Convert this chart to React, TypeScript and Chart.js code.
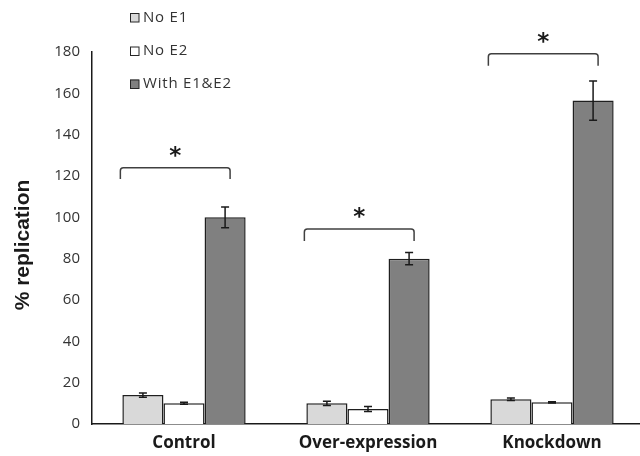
import React, { useEffect, useRef } from "react";
import { Chart, registerables } from "chart.js";

Chart.register(...registerables);

const categories = ["Control", "Over-expression", "Knockdown"];
const seriesNames = ["No E1", "No E2", "With E1&E2"];
const noE1 = [14, 10, 12];
const noE1Err = [1, 1, 0.6];
const noE2 = [10, 7.3, 10.5];
const noE2Err = [0.5, 1.2, 0.3];
const withE1E2 = [100, 80, 156.5];
const withE1E2Err = [5, 3, 9.5];
const bracketLevels = [124, 94.3, 179.2];
const bracketDrop = [5.5, 5.7, 5.8];
const yTicks = [0, 20, 40, 60, 80, 100, 120, 140, 160, 180];
const yTitle = "% replication";

const fills = ["#d9d9d9", "#ffffff", "#808080"];
const borders = ["#1f1f1f", "#1f1f1f", "#1f1f1f"];

export default function App() {
  const ref = useRef<HTMLCanvasElement | null>(null);

  useEffect(() => {
    const canvas = ref.current;
    if (!canvas) return;
    const errs = [noE1Err, noE2Err, withE1E2Err];

    const overlay = {
      id: "overlay",
      afterDatasetsDraw(chart: any) {
        const ctx = chart.ctx;
        const y = chart.scales.y;
        ctx.save();
        // error bars
        ctx.strokeStyle = "#1a1a1a";
        ctx.lineWidth = 1.5;
        for (let d = 0; d < 3; d++) {
          const meta = chart.getDatasetMeta(d);
          const vals = chart.data.datasets[d].data as number[];
          meta.data.forEach((bar: any, i: number) => {
            const v = vals[i];
            const e = errs[d][i];
            const yt = y.getPixelForValue(v + e);
            const yb = y.getPixelForValue(v - e);
            const x = bar.x;
            ctx.beginPath();
            ctx.moveTo(x, yt);
            ctx.lineTo(x, yb);
            ctx.moveTo(x - 4, yt);
            ctx.lineTo(x + 4, yt);
            ctx.moveTo(x - 4, yb);
            ctx.lineTo(x + 4, yb);
            ctx.stroke();
          });
        }
        // brackets and stars
        const m0 = chart.getDatasetMeta(0);
        const m2 = chart.getDatasetMeta(2);
        ctx.strokeStyle = "#404040";
        ctx.lineWidth = 1.5;
        for (let i = 0; i < categories.length; i++) {
          const b0: any = m0.data[i];
          const b2: any = m2.data[i];
          const x1 = b0.x - b0.width / 2 - 2;
          const x2 = b2.x + 5;
          const yl = y.getPixelForValue(bracketLevels[i]);
          const ye = y.getPixelForValue(bracketLevels[i] - bracketDrop[i]);
          const r = 3;
          ctx.beginPath();
          ctx.moveTo(x1, ye);
          ctx.lineTo(x1, yl + r);
          ctx.quadraticCurveTo(x1, yl, x1 + r, yl);
          ctx.lineTo(x2 - r, yl);
          ctx.quadraticCurveTo(x2, yl, x2, yl + r);
          ctx.lineTo(x2, ye);
          ctx.stroke();
          ctx.fillStyle = "#1a1a1a";
          ctx.font = "bold 23px 'DejaVu Sans'";
          ctx.textAlign = "center";
          ctx.textBaseline = "alphabetic";
          ctx.fillText("*", (x1 + x2) / 2, yl - 5);
        }
        ctx.restore();
      },
      afterDraw(chart: any) {
        const ctx = chart.ctx;
        ctx.save();
        // legend
        const tops = [13, 46.5, 79.5];
        ctx.font = "15px 'Open Sans'";
        (ctx as any).letterSpacing = "0.8px";
        ctx.textBaseline = "middle";
        ctx.textAlign = "left";
        for (let d = 0; d < 3; d++) {
          ctx.fillStyle = fills[d];
          ctx.fillRect(130, tops[d], 9, 9);
          ctx.strokeStyle = "#262626";
          ctx.lineWidth = 1;
          ctx.strokeRect(130.5, tops[d] + 0.5, 8.5, 8.5);
          ctx.fillStyle = "#333333";
          ctx.fillText(seriesNames[d], 143, tops[d] + 4.5);
        }
        (ctx as any).letterSpacing = "0px";
        // y title
        ctx.translate(23, 245);
        ctx.rotate(-Math.PI / 2);
        ctx.font = "bold 21px 'Liberation Sans'";
        ctx.fillStyle = "#1a1a1a";
        ctx.textAlign = "center";
        ctx.textBaseline = "middle";
        ctx.fillText(yTitle, 0, 0);
        ctx.restore();
      },
    };

    const chart = new Chart(canvas, {
      type: "bar",
      data: {
        labels: categories,
        datasets: [noE1, noE2, withE1E2].map((data, d) => ({
          label: seriesNames[d],
          data,
          backgroundColor: fills[d],
          borderColor: borders[d],
          borderWidth: 1.5,
          categoryPercentage: 0.67,
          barPercentage: 1.0,
        })),
      },
      options: {
        responsive: false,
        animation: false,
        layout: { padding: { top: 52, left: 0, right: 0, bottom: 0 } },
        plugins: { legend: { display: false }, tooltip: { enabled: false } },
        scales: {
          x: {
            grid: { display: false, drawTicks: false },
            border: { display: true, color: "#1a1a1a", width: 1.5 },
            ticks: {
              color: "#1a1a1a",
              font: { family: "'Open Sans'", size: 17, weight: "bold" },
              padding: 9,
            },
            afterFit(scale: any) {
              scale.height = 32;
            },
          },
          y: {
            min: 0,
            max: 180,
            grid: { display: false, drawTicks: false },
            border: { display: true, color: "#1a1a1a", width: 1.5 },
            afterBuildTicks(scale: any) {
              scale.ticks = yTicks.map((v) => ({ value: v }));
            },
            ticks: {
              color: "#333333",
              font: { family: "'Open Sans'", size: 15 },
              padding: 12,
            },
            afterFit(scale: any) {
              scale.width = 92;
            },
          },
        },
      },
      plugins: [overlay],
    });
    return () => chart.destroy();
  }, []);

  return (
    <div
      style={{
        position: "fixed",
        left: 0,
        top: 0,
        width: 640,
        height: 456,
        overflow: "hidden",
        background: "#fff",
      }}
    >
      <canvas ref={ref} width={644} height={456} style={{ display: "block" }} />
    </div>
  );
}
